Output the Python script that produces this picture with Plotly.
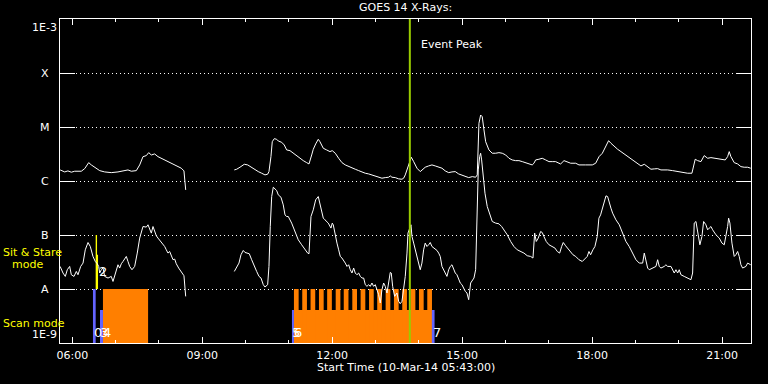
import pandas as pd
import numpy as np
import plotly.graph_objects as go

DAY = "2014-03-10"
X_START = "2014-03-10 05:43:00"
X_END = "2014-03-10 21:40:00"

# ---------------- GOES 14 data (hours of day, log10 flux W/m^2) ----------------
long_a_hours = [5.72, 5.825, 5.90, 5.978, 6.056, 6.208, 6.287, 6.379, 6.439, 6.517, 6.633, 6.748, 6.90, 7.055,
                7.21, 7.286, 7.362, 7.478, 7.556, 7.632, 7.709, 7.764, 7.824, 7.902, 7.978, 8.055, 8.133, 8.209,
                8.286, 8.364, 8.44, 8.516, 8.578, 8.618]
long_a_log = [-5.795, -5.832, -5.813, -5.837, -5.819, -5.819, -5.771, -5.660, -5.702, -5.745, -5.808, -5.832, -5.845,
              -5.832, -5.80, -5.795, -5.819, -5.808, -5.702, -5.549, -5.530, -5.475, -5.518, -5.499, -5.549, -5.579,
              -5.61, -5.641, -5.671, -5.708, -5.734, -5.763, -5.813, -6.165]

long_b_hours = [9.74, 9.795, 9.871, 9.97, 10.049, 10.125, 10.201, 10.293, 10.372, 10.448, 10.51, 10.54, 10.586, 10.616,
                10.662, 10.718, 10.755, 10.833, 10.893, 10.949, 11.025, 11.101, 11.18, 11.256, 11.332, 11.41, 11.464,
                11.526, 11.563, 11.618, 11.678, 11.717, 11.794, 11.872, 11.948, 12.001, 12.071, 12.149, 12.225,
                12.301, 12.38, 12.456, 12.532, 12.611, 12.687, 12.763, 12.841, 12.917, 12.994, 13.072, 13.148,
                13.224, 13.303, 13.34, 13.379, 13.455, 13.534, 13.61, 13.649, 13.686, 13.726, 13.749, 13.825, 13.88,
                13.956, 14.032, 14.087, 14.147, 14.226, 14.302, 14.378, 14.457, 14.533, 14.609, 14.688, 14.764,
                14.84, 14.919, 14.995, 15.071, 15.15, 15.233, 15.311, 15.348, 15.387, 15.426, 15.463, 15.503,
                15.542, 15.618, 15.694, 15.773, 15.849, 15.925, 16.004, 16.08, 16.156, 16.234, 16.31, 16.387,
                16.465, 16.541, 16.617, 16.657, 16.695, 16.772, 16.848, 16.927, 17.003, 17.079, 17.158, 17.234,
                17.273, 17.35, 17.426, 17.504, 17.62, 17.696, 17.85, 18.004, 18.082, 18.12, 18.159, 18.235, 18.38,
                18.434, 18.51, 18.589, 18.665, 18.741, 18.82, 18.896, 18.972, 19.05, 19.126, 19.203, 19.281,
                19.357, 19.433, 19.512, 19.588, 19.664, 19.743, 19.858, 19.973, 20.089, 20.204, 20.303, 20.333,
                20.379, 20.434, 20.511, 20.587, 20.666, 20.742, 20.857, 20.973, 21.072, 21.127, 21.164, 21.203,
                21.279, 21.358, 21.434, 21.51, 21.589, 21.66]
long_b_log = [-5.795, -5.782, -5.745, -5.69, -5.702, -5.745, -5.782, -5.826, -5.856, -5.887, -5.874, -5.826, -5.549,
              -5.272, -5.216, -5.228, -5.259, -5.283, -5.333, -5.425, -5.438, -5.486, -5.53, -5.579, -5.623, -5.66,
              -5.684, -5.518, -5.413, -5.314, -5.228, -5.272, -5.394, -5.425, -5.456, -5.438, -5.486, -5.579,
              -5.66, -5.702, -5.734, -5.763, -5.782, -5.808, -5.837, -5.856, -5.869, -5.887, -5.919, -5.937,
              -5.948, -5.937, -5.93, -5.906, -5.93, -5.937, -5.961, -5.967, -5.948, -5.887, -5.795, -5.734, -5.56,
              -5.641, -5.763, -5.826, -5.795, -5.745, -5.721, -5.702, -5.721, -5.745, -5.763, -5.813, -5.845,
              -5.832, -5.826, -5.869, -5.887, -5.919, -5.937, -5.919, -5.93, -5.887, -4.932, -4.778, -4.81,
              -5.055, -5.272, -5.425, -5.486, -5.486, -5.475, -5.486, -5.518, -5.579, -5.61, -5.623, -5.623,
              -5.641, -5.66, -5.684, -5.702, -5.671, -5.61, -5.597, -5.579, -5.61, -5.641, -5.641, -5.641, -5.671,
              -5.684, -5.623, -5.653, -5.671, -5.671, -5.702, -5.702, -5.702, -5.671, -5.623, -5.549, -5.486,
              -5.253, -5.301, -5.364, -5.413, -5.456, -5.499, -5.549, -5.597, -5.641, -5.671, -5.721, -5.69,
              -5.745, -5.782, -5.776, -5.771, -5.795, -5.789, -5.795, -5.808, -5.826, -5.837, -5.856, -5.856,
              -5.763, -5.597, -5.623, -5.641, -5.53, -5.579, -5.567, -5.579, -5.597, -5.61, -5.549, -5.456,
              -5.549, -5.66, -5.684, -5.734, -5.745, -5.745, -5.763]

short_a_hours = [5.72, 5.786, 5.839, 5.885, 5.94, 5.978, 6.04, 6.093, 6.132, 6.194, 6.248, 6.30, 6.363, 6.416, 6.478,
                 6.531, 6.577, 6.61, 6.633, 6.67, 6.709, 6.748, 6.825, 6.90, 6.94, 6.993, 7.055, 7.094, 7.132,
                 7.171, 7.247, 7.286, 7.325, 7.378, 7.44, 7.50, 7.556, 7.632, 7.709, 7.748, 7.786, 7.824, 7.863,
                 7.902, 7.94, 7.978, 8.04, 8.093, 8.133, 8.17, 8.209, 8.248, 8.286, 8.325, 8.364, 8.40, 8.456,
                 8.516, 8.578, 8.618]
short_a_log = [-7.582, -7.704, -7.767, -7.643, -7.582, -7.736, -7.767, -7.675, -7.736, -7.582, -7.52, -7.274, -7.139,
               -7.213, -7.397, -7.49, -7.532, -7.582, -7.704, -7.643, -7.612, -7.767, -7.797, -7.767, -7.86, -7.704,
               -7.551, -7.612, -7.532, -7.49, -7.397, -7.49, -7.582, -7.643, -7.582, -7.335, -7.057, -6.843, -6.854,
               -6.811, -6.904, -6.965, -6.843, -6.935, -7.015, -7.057, -7.12, -7.181, -7.213, -7.274, -7.335,
               -7.305, -7.397, -7.458, -7.446, -7.532, -7.612, -7.675, -7.754, -8.137]

short_b_hours = [9.74, 9.795, 9.848, 9.894, 9.947, 9.986, 10.049, 10.086, 10.141, 10.201, 10.256, 10.31, 10.356,
                 10.409, 10.448, 10.51, 10.54, 10.57, 10.603, 10.64, 10.679, 10.718, 10.755, 10.817, 10.87, 10.91,
                 10.949, 10.986, 11.064, 11.14, 11.216, 11.295, 11.371, 11.433, 11.464, 11.487, 11.51, 11.563,
                 11.618, 11.678, 11.717, 11.756, 11.794, 11.833, 11.909, 11.971, 12.001, 12.024, 12.071, 12.11,
                 12.149, 12.186, 12.225, 12.264, 12.301, 12.341, 12.38, 12.417, 12.456, 12.495, 12.532, 12.571,
                 12.611, 12.648, 12.687, 12.726, 12.763, 12.802, 12.841, 12.878, 12.917, 12.956, 12.994, 13.033,
                 13.072, 13.109, 13.148, 13.187, 13.224, 13.264, 13.303, 13.34, 13.363, 13.395, 13.441, 13.494,
                 13.534, 13.57, 13.61, 13.649, 13.686, 13.726, 13.749, 13.818, 13.841, 13.88, 13.917, 13.956,
                 13.995, 14.032, 14.071, 14.11, 14.147, 14.187, 14.226, 14.263, 14.302, 14.341, 14.378, 14.418,
                 14.457, 14.494, 14.533, 14.572, 14.609, 14.648, 14.688, 14.725, 14.764, 14.803, 14.84, 14.879,
                 14.919, 14.956, 14.995, 15.034, 15.071, 15.11, 15.15, 15.195, 15.233, 15.272, 15.311, 15.348,
                 15.371, 15.404, 15.426, 15.449, 15.479, 15.526, 15.579, 15.634, 15.694, 15.773, 15.849, 15.911,
                 15.964, 16.04, 16.119, 16.195, 16.271, 16.35, 16.426, 16.502, 16.581, 16.634, 16.673, 16.71,
                 16.756, 16.811, 16.848, 16.887, 16.94, 17.003, 17.079, 17.141, 17.195, 17.25, 17.296, 17.333,
                 17.388, 17.448, 17.504, 17.557, 17.62, 17.696, 17.772, 17.834, 17.887, 17.926, 17.965, 18.018,
                 18.064, 18.117, 18.156, 18.195, 18.232, 18.319, 18.357, 18.395, 18.434, 18.473, 18.51, 18.549,
                 18.626, 18.704, 18.78, 18.856, 18.896, 18.935, 19.011, 19.087, 19.166, 19.203, 19.242, 19.281,
                 19.318, 19.396, 19.473, 19.512, 19.549, 19.588, 19.664, 19.703, 19.743, 19.819, 19.858, 19.895,
                 19.934, 19.973, 20.01, 20.049, 20.125, 20.204, 20.28, 20.319, 20.333, 20.356, 20.396, 20.434,
                 20.487, 20.534, 20.573, 20.626, 20.666, 20.703, 20.742, 20.781, 20.857, 20.934, 20.996, 21.049,
                 21.088, 21.127, 21.15, 21.18, 21.227, 21.279, 21.318, 21.358, 21.395, 21.434, 21.473, 21.549,
                 21.589, 21.66]
short_b_log = [-7.675, -7.582, -7.52, -7.366, -7.286, -7.323, -7.335, -7.347, -7.458, -7.582, -7.675, -7.767, -7.797,
               -7.92, -7.963, -7.92, -7.582, -6.843, -6.288, -6.115, -6.152, -6.177, -6.257, -6.30, -6.442, -6.627,
               -6.658, -6.658, -6.78, -6.935, -7.089, -7.181, -7.274, -7.335, -7.347, -7.028, -6.658, -6.534,
               -6.349, -6.288, -6.41, -6.534, -6.688, -6.719, -6.78, -6.872, -6.78, -6.811, -7.028, -7.15, -7.274,
               -7.397, -7.427, -7.49, -7.52, -7.582, -7.551, -7.643, -7.704, -7.612, -7.704, -7.736, -7.704, -7.767,
               -7.797, -7.797, -7.92, -7.951, -7.92, -7.951, -7.889, -7.951, -7.92, -8.013, -8.105, -8.259, -8.013,
               -7.889, -7.951, -8.074, -7.889, -7.693, -7.704, -7.951, -8.136, -8.074, -8.229, -8.272, -8.229,
               -7.951, -7.767, -7.335, -6.965, -6.811, -7.028, -7.15, -7.274, -7.397, -7.551, -7.643, -7.52, -7.274,
               -7.15, -7.213, -7.181, -7.139, -7.213, -7.242, -7.274, -7.286, -7.335, -7.397, -7.582, -7.643,
               -7.704, -7.767, -7.643, -7.582, -7.551, -7.643, -7.704, -7.736, -7.828, -7.889, -7.92, -7.982,
               -8.043, -8.074, -8.198, -7.889, -7.841, -7.797, -7.643, -6.534, -5.795, -5.549, -5.486, -5.61,
               -5.919, -6.226, -6.473, -6.627, -6.75, -6.78, -6.793, -6.843, -6.904, -6.996, -7.12, -7.213, -7.274,
               -7.305, -7.335, -7.384, -7.397, -7.427, -6.965, -7.12, -7.057, -6.935, -6.954, -7.028, -7.12, -7.181,
               -7.213, -7.242, -7.305, -7.335, -7.213, -7.139, -7.2, -7.261, -7.305, -7.366, -7.397, -7.458, -7.49,
               -7.446, -7.397, -7.305, -7.366, -7.274, -7.213, -7.028, -6.688, -6.627, -6.534, -6.275, -6.288,
               -6.41, -6.503, -6.595, -6.658, -6.719, -6.811, -6.965, -7.12, -7.213, -7.274, -7.335, -7.458, -7.52,
               -7.52, -7.335, -7.49, -7.612, -7.643, -7.612, -7.582, -7.458, -7.582, -7.612, -7.582, -7.551,
               -7.582, -7.582, -7.643, -7.704, -7.643, -7.704, -7.643, -7.736, -7.767, -7.797, -7.828, -7.704,
               -7.15, -6.78, -6.75, -6.965, -7.181, -7.028, -6.75, -6.811, -6.904, -6.872, -6.843, -6.904, -6.996,
               -7.057, -7.15, -7.181, -7.028, -6.843, -6.688, -6.78, -7.15, -7.397, -7.366, -7.305, -7.397, -7.551,
               -7.612, -7.582, -7.52, -7.551]

# ---------------- Observation timeline (start, end, top flux) ----------------
sit_stare_start = ["06:32:24", "06:34:18"]
sit_stare_end = ["06:34:18", "06:35:40"]
sit_stare_top = [1e-7, 4.3e-8]
sit_stare_base = 1e-8

scan_block_start = ["06:42:30", "11:07:00"]
scan_block_end = ["07:45:00", "14:18:00"]
scan_block_top = [1e-8, 4.1e-9]

raster_start = ["11:07", "11:18:30", "11:30", "11:41:40", "11:53", "12:04:50", "12:16", "12:27:50", "12:39:20",
                "12:51", "13:02:20", "13:14", "13:25:30", "13:37", "13:48:40", "14:00:10", "14:11:40"]
raster_minutes = 6.5
raster_top = 1e-8

pointing_start = ["06:28:40", "06:38:24", "11:04:15", "14:18:00"]
pointing_end = ["06:32:24", "06:42:30", "11:07:00", "14:21:45"]
pointing_top = [1e-8, 4.1e-9, 4.1e-9, 4.1e-9]
scan_base = 1e-9

event_peak = "13:47:30"

obs_labels = ["0", "3", "4", "2", "5", "6", "7"]
obs_label_time = ["06:35:40", "06:44:00", "06:48:00", "06:42:30", "11:10:00", "11:12:00", "14:25:00"]
obs_label_flux = [1.55e-9, 1.55e-9, 1.55e-9, 2.1e-8, 1.55e-9, 1.55e-9, 1.55e-9]

y_tick_vals = [1e-3, 1e-4, 1e-5, 1e-6, 1e-7, 1e-8, 1e-9]
y_tick_text = ["1E-3", "X", "M", "C", "B", "A", "1E-9"]

ORANGE = "#ff7f00"
BLUE = "#6464ff"
YELLOW = "#ffff00"
GREEN = "#99cc00"
FONT = "DejaVu Sans"


def at(hours):
    return [pd.Timestamp(DAY) + pd.to_timedelta(h, unit="h") for h in hours]


def clock(s):
    return pd.Timestamp(f"{DAY} {s}")


fig = go.Figure()


def add_boxes(starts, ends, bases, tops, color):
    xs, ys = [], []
    for s, e, b, t in zip(starts, ends, bases, tops):
        xs += [s, e, e, s, s, None]
        ys += [b, b, t, t, b, None]
    fig.add_trace(go.Scatter(x=xs, y=ys, mode="lines", fill="toself", fillcolor=color,
                             line=dict(width=0, color=color), hoverinfo="skip", showlegend=False))


n_blk = len(scan_block_start)
add_boxes([clock(s) for s in scan_block_start], [clock(s) for s in scan_block_end],
          [scan_base] * n_blk, scan_block_top, ORANGE)
add_boxes([clock(s) for s in raster_start],
          [clock(s) + pd.Timedelta(minutes=raster_minutes) for s in raster_start],
          [scan_base] * len(raster_start), [raster_top] * len(raster_start), ORANGE)
add_boxes([clock(s) for s in pointing_start], [clock(s) for s in pointing_end],
          [scan_base] * len(pointing_start), pointing_top, BLUE)
add_boxes([clock(s) for s in sit_stare_start], [clock(s) for s in sit_stare_end],
          [sit_stare_base] * len(sit_stare_start), sit_stare_top, YELLOW)

for hrs, lg in [(long_a_hours, long_a_log), (long_b_hours, long_b_log),
                (short_a_hours, short_a_log), (short_b_hours, short_b_log)]:
    fig.add_trace(go.Scatter(x=at(hrs), y=[10 ** v for v in lg], mode="lines",
                             line=dict(color="white", width=1), hoverinfo="skip", showlegend=False))

shapes = [dict(type="line", xref="x", yref="paper", x0=clock(event_peak), x1=clock(event_peak), y0=0, y1=1,
               line=dict(color=GREEN, width=2), layer="above")]

ann = []
for t, f, txt in zip(obs_label_time, obs_label_flux, obs_labels):
    ann.append(dict(x=clock(t), y=np.log10(f), xref="x", yref="y", text=txt, showarrow=False,
                    font=dict(family=FONT, size=13, color="white"), xanchor="center", yanchor="middle"))

for i, (v, txt) in enumerate(zip(y_tick_vals, y_tick_text)):
    ya = "top" if i == 0 else ("bottom" if i == len(y_tick_vals) - 1 else "middle")
    ann.append(dict(x=-0.0224, y=np.log10(v), xref="paper", yref="y", text=txt, showarrow=False,
                    font=dict(family=FONT, size=11, color="white"), xanchor="center", yanchor=ya))

ann += [
    dict(x=0.5, y=1.034, xref="paper", yref="paper", text="GOES 14 X-Rays:", showarrow=False,
         font=dict(family=FONT, size=11, color="white"), xanchor="center", yanchor="middle"),
    dict(x=0.5, y=-0.0755, xref="paper", yref="paper", text="Start Time (10-Mar-14 05:43:00)", showarrow=False,
         font=dict(family=FONT, size=11, color="white"), xanchor="center", yanchor="middle"),
    dict(x=clock("14:00"), y=-3.466, xref="x", yref="y", text="Event Peak", showarrow=False,
         font=dict(family=FONT, size=11, color="white"), xanchor="left", yanchor="middle"),
    dict(x=-0.0855, y=-7.33, xref="paper", yref="y", text="Sit & Stare", showarrow=False,
         font=dict(family=FONT, size=11, color=YELLOW), xanchor="left", yanchor="middle"),
    dict(x=-0.0720, y=-7.55, xref="paper", yref="y", text="mode", showarrow=False,
         font=dict(family=FONT, size=11, color=YELLOW), xanchor="left", yanchor="middle"),
    dict(x=-0.0855, y=-8.63, xref="paper", yref="y", text="Scan mode", showarrow=False,
         font=dict(family=FONT, size=11, color=YELLOW), xanchor="left", yanchor="middle"),
]

fig.update_layout(
    width=768, height=384,
    margin=dict(l=60, r=17, t=19, b=41),
    paper_bgcolor="black", plot_bgcolor="black",
    shapes=shapes, annotations=ann, showlegend=False,
    font=dict(family=FONT, color="white", size=11),
    xaxis=dict(type="date", range=[X_START, X_END], showgrid=False, zeroline=False,
               showline=True, linecolor="white", linewidth=1, mirror="ticks",
               ticks="inside", ticklen=6, tickcolor="white", tickwidth=1,
               tick0=f"{DAY} 00:00", dtick=3 * 3600000, tickformat="%H:%M",
               tickfont=dict(family=FONT, size=11, color="white"), ticklabelstandoff=2,
               minor=dict(dtick=3600000, tick0=f"{DAY} 00:00", ticks="inside", ticklen=3,
                          tickcolor="white", showgrid=False)),
    yaxis=dict(type="log", range=[-9, -3], showline=True, linecolor="white", linewidth=1, mirror="ticks",
               ticks="inside", ticklen=15, tickcolor="white", tickwidth=1,
               tickmode="array", tickvals=y_tick_vals, showticklabels=False,
               showgrid=True, gridcolor="white", gridwidth=1, griddash="1px,3px", zeroline=False),
)

# remove the default page margin so the 768x384 figure fills the window exactly
fig.write_html("out.html", config={"displayModeBar": False},
               post_script="document.body.style.margin='0px';document.body.style.background='black';")
